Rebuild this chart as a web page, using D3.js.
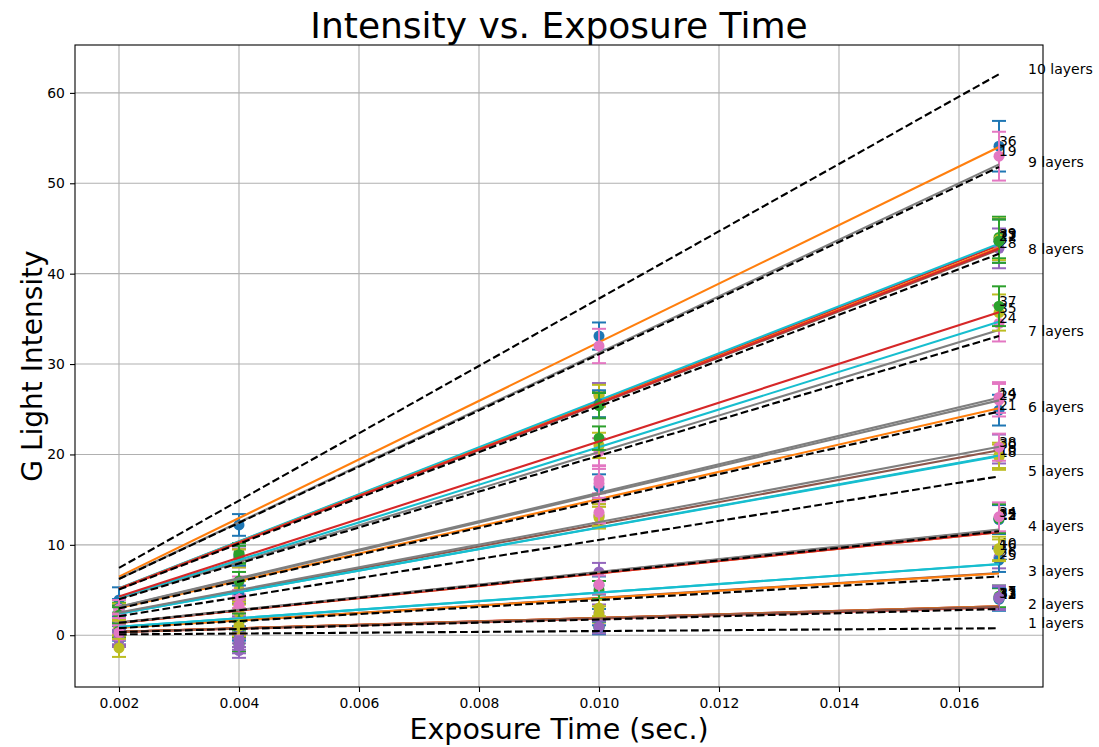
<!DOCTYPE html>
<html>
<head>
<meta charset="utf-8">
<script src="https://cdn.jsdelivr.net/npm/d3@7"></script>
<style>
  body { margin: 0; background: #fff; }
  text { font-family: "DejaVu Sans", sans-serif; }
</style>
</head>
<body>
<div id="chart"></div>
<script>
// exposure times (sec.) the sensor was sampled at
const exposures = [0.002, 0.004, 0.010, 1 / 60];

// sample ids, in plotting order (colour cycle follows this order)
const seriesIds = [36, 39, 28, 19, 23, 11, 27, 30, 24, 35, 21, 37, 15, 14, 18,
                   12, 17, 26, 29, 10, 25, 13, 33, 38, 40, 32, 22, 31, 34, 16];

// measured G intensity at each exposure, one row per sample
const seriesValues = [
  [3.9, 12.2, 33.1, 54.1], [2.6, 9.1, 25.5, 44.0], [2.2, 8.6, 26.6, 42.8], [2.9, 8.5, 32.0, 53.0], [2.5, 8.5, 26.5, 43.8],
  [3.0, 8.8, 25.6, 43.6], [2.4, 8.9, 25.4, 43.6], [0.5, 3.0, 13.2, 20.6], [2.9, 5.5, 20.3, 34.5], [1.4, 5.0, 21.0, 35.7],
  [1.2, 4.5, 16.4, 24.9], [2.2, 6.0, 21.8, 36.4], [-0.4, -1.7, 7.0, 12.9], [1.5, 3.4, 17.2, 26.3], [0.8, 2.5, 13.3, 19.7],
  [0.2, 0.8, 5.5, 12.8], [-0.5, -1.0, 1.0, 4.3], [-0.5, -0.8, 2.5, 8.6], [1.4, 4.0, 16.8, 26.0], [0.9, 2.8, 13.0, 19.9],
  [0.5, 0.9, 2.0, 8.3], [-0.3, -0.5, 0.9, 4.0], [-0.4, -1.2, 1.2, 4.2], [1.0, 3.3, 13.6, 20.8], [0.8, 0.7, 2.3, 9.6],
  [0.3, 0.2, 0.8, 4.0], [0.5, 1.5, 5.0, 12.9], [-0.2, -0.5, 0.9, 4.1], [0.3, 1.0, 5.6, 13.1], [-1.4, 1.0, 3.0, 9.4]
];

// standard deviation at each exposure
const seriesErrors = [
  [1.4, 1.2, 1.5, 2.8], [1.0, 1.1, 1.4, 2.3], [1.0, 1.0, 1.3, 2.2], [1.0, 1.0, 1.9, 2.7], [1.0, 1.0, 1.2, 2.3],
  [1.0, 1.1, 1.5, 2.4], [0.9, 1.0, 1.4, 2.4], [0.9, 0.9, 1.3, 1.6], [1.0, 1.0, 1.5, 2.0], [1.0, 1.0, 1.4, 2.0],
  [0.9, 1.0, 1.4, 1.7], [0.9, 1.0, 1.3, 2.2], [0.8, 0.8, 1.0, 1.5], [0.9, 0.9, 1.5, 1.7], [0.9, 0.9, 1.2, 1.4],
  [0.8, 0.9, 1.0, 1.6], [0.8, 0.8, 0.7, 1.2], [0.8, 0.8, 0.9, 1.2], [0.9, 1.0, 1.6, 1.8], [0.9, 0.9, 1.2, 1.4],
  [0.8, 0.8, 0.9, 1.3], [0.8, 0.8, 0.7, 1.2], [0.8, 0.8, 0.8, 1.3], [0.9, 0.9, 1.2, 1.5], [0.8, 0.8, 0.9, 1.3],
  [0.8, 0.8, 0.7, 1.3], [0.8, 0.9, 1.0, 1.6], [0.8, 0.8, 0.7, 1.3], [0.8, 0.9, 1.0, 1.6], [1.0, 0.8, 0.9, 1.2]
];

// reference lines: expected intensity at the longest exposure for n layers
const layerNames = ["1 layers", "2 layers", "3 layers", "4 layers", "5 layers",
                    "6 layers", "7 layers", "8 layers", "9 layers", "10 layers"];
const layerAtMax = [0.77, 2.9, 6.5, 11.5, 17.57, 24.75, 33.1, 42.2, 51.8, 62.07];

const xTicks = [0.002, 0.004, 0.006, 0.008, 0.010, 0.012, 0.014, 0.016];
const yTicks = [0, 10, 20, 30, 40, 50, 60];

const width = 1099;
const height = 747;
const margin = {left: 75, right: 56, top: 45, bottom: 60};

const svg = d3.select("#chart")
  .append("svg")
  .attr("width", width)
  .attr("height", height);

const xMin = d3.min(exposures), xMax = d3.max(exposures);
const xPad = (xMax - xMin) * 0.05;
const xScale = d3.scaleLinear()
  .domain([xMin - xPad, xMax + xPad])
  .range([margin.left, width - margin.right]);

// y limits like matplotlib autoscale: error bars and reference lines, 5% margin
let lows = [], highs = [];
seriesValues.forEach((row, i) => row.forEach((v, j) => {
  lows.push(v - seriesErrors[i][j]);
  highs.push(v + seriesErrors[i][j]);
}));
layerAtMax.forEach(v => { highs.push(v); lows.push(v * xMin / xMax); });
const yLo = d3.min(lows), yHi = d3.max(highs);
const yPad = (yHi - yLo) * 0.05;
const yScale = d3.scaleLinear()
  .domain([yLo - yPad, yHi + yPad])
  .range([height - margin.bottom, margin.top]);

const plotL = margin.left, plotR = width - margin.right;
const plotT = margin.top, plotB = height - margin.bottom;

// grid
svg.append("g")
  .selectAll("line.gx")
  .data(xTicks)
  .enter()
  .append("line")
    .attr("x1", d => xScale(d)).attr("x2", d => xScale(d))
    .attr("y1", plotT).attr("y2", plotB)
    .attr("stroke", "#b0b0b0").attr("stroke-width", 1.1);
svg.append("g")
  .selectAll("line.gy")
  .data(yTicks)
  .enter()
  .append("line")
    .attr("x1", plotL).attr("x2", plotR)
    .attr("y1", d => yScale(d)).attr("y2", d => yScale(d))
    .attr("stroke", "#b0b0b0").attr("stroke-width", 1.1);

// axes
const xAxis = svg.append("g")
  .attr("transform", `translate(0,${plotB})`)
  .call(d3.axisBottom(xScale).tickValues(xTicks).tickFormat(d3.format(".3f")).tickSize(5).tickSizeOuter(0));
const yAxis = svg.append("g")
  .attr("transform", `translate(${plotL},0)`)
  .call(d3.axisLeft(yScale).tickValues(yTicks).tickFormat(d3.format("d")).tickSize(5).tickSizeOuter(0));
[xAxis, yAxis].forEach(a => {
  a.select(".domain").remove();
  a.selectAll("text").attr("font-size", "13.9px").attr("fill", "#000")
    .style("font-family", "DejaVu Sans, sans-serif");
  a.selectAll("line").attr("stroke", "#000").attr("stroke-width", 1.1);
});
xAxis.selectAll("text").attr("dy", "0.95em");
yAxis.selectAll("text").attr("dx", "-0.15em");

const colors = d3.schemeCategory10;
const lineGen = d3.line().x(d => xScale(d[0])).y(d => yScale(d[1]));

// samples: error bars, points, fitted line through the origin, id label
const sxx = d3.sum(exposures, x => x * x);
seriesValues.forEach((row, i) => {
  const pc = colors[(2 * i) % 10];
  const lc = colors[(2 * i + 1) % 10];
  const pts = row.map((v, j) => ({x: exposures[j], y: v, e: seriesErrors[i][j]}));
  const g = svg.append("g");

  g.selectAll(".bar")
    .data(pts)
    .enter()
    .append("line")
      .attr("x1", d => xScale(d.x)).attr("x2", d => xScale(d.x))
      .attr("y1", d => yScale(d.y - d.e)).attr("y2", d => yScale(d.y + d.e))
      .attr("stroke", pc).attr("stroke-width", 2);
  ["lo", "hi"].forEach(side => {
    g.selectAll(".cap-" + side)
      .data(pts)
      .enter()
      .append("line")
        .attr("x1", d => xScale(d.x) - 7).attr("x2", d => xScale(d.x) + 7)
        .attr("y1", d => yScale(side === "lo" ? d.y - d.e : d.y + d.e))
        .attr("y2", d => yScale(side === "lo" ? d.y - d.e : d.y + d.e))
        .attr("stroke", pc).attr("stroke-width", 2);
  });
  g.selectAll("circle")
    .data(pts)
    .enter()
    .append("circle")
      .attr("cx", d => xScale(d.x))
      .attr("cy", d => yScale(d.y))
      .attr("r", 5.5)
      .attr("fill", pc);

  const slope = d3.sum(pts, d => d.x * d.y) / sxx;
  g.append("path")
    .attr("d", lineGen([[xMin, slope * xMin], [xMax, slope * xMax]]))
    .attr("fill", "none").attr("stroke", lc).attr("stroke-width", 2.1);

  g.append("text")
    .attr("x", xScale(xMax)).attr("y", yScale(row[3]))
    .attr("font-size", "13.9px")
    .text(seriesIds[i]);
});

// n-layer reference lines
svg.append("g")
  .selectAll("path")
  .data(layerAtMax)
  .enter()
  .append("path")
    .attr("d", v => lineGen([[xMin, v * xMin / xMax], [xMax, v]]))
    .attr("fill", "none")
    .attr("stroke", "#000")
    .attr("stroke-width", 2.1)
    .attr("stroke-dasharray", "7.7,3.3");

svg.append("g")
  .selectAll("text")
  .data(layerAtMax)
  .enter()
  .append("text")
    .attr("x", xScale(0.01715))
    .attr("y", v => yScale(v))
    .attr("font-size", "14px")
    .text((v, i) => layerNames[i]);

// frame
svg.append("rect")
  .attr("x", plotL).attr("y", plotT)
  .attr("width", plotR - plotL).attr("height", plotB - plotT)
  .attr("fill", "none").attr("stroke", "#000").attr("stroke-width", 1.1);

// titles
svg.append("text")
  .attr("x", (plotL + plotR) / 2).attr("y", 38)
  .attr("text-anchor", "middle")
  .attr("font-size", "36px")
  .text("Intensity vs. Exposure Time");
svg.append("text")
  .attr("x", (plotL + plotR) / 2).attr("y", 739)
  .attr("text-anchor", "middle")
  .attr("font-size", "28.5px")
  .text("Exposure Time (sec.)");
svg.append("text")
  .attr("transform", `translate(42,${(plotT + plotB) / 2}) rotate(-90)`)
  .attr("text-anchor", "middle")
  .attr("font-size", "28px")
  .text("G Light Intensity");
</script>
</body>
</html>
